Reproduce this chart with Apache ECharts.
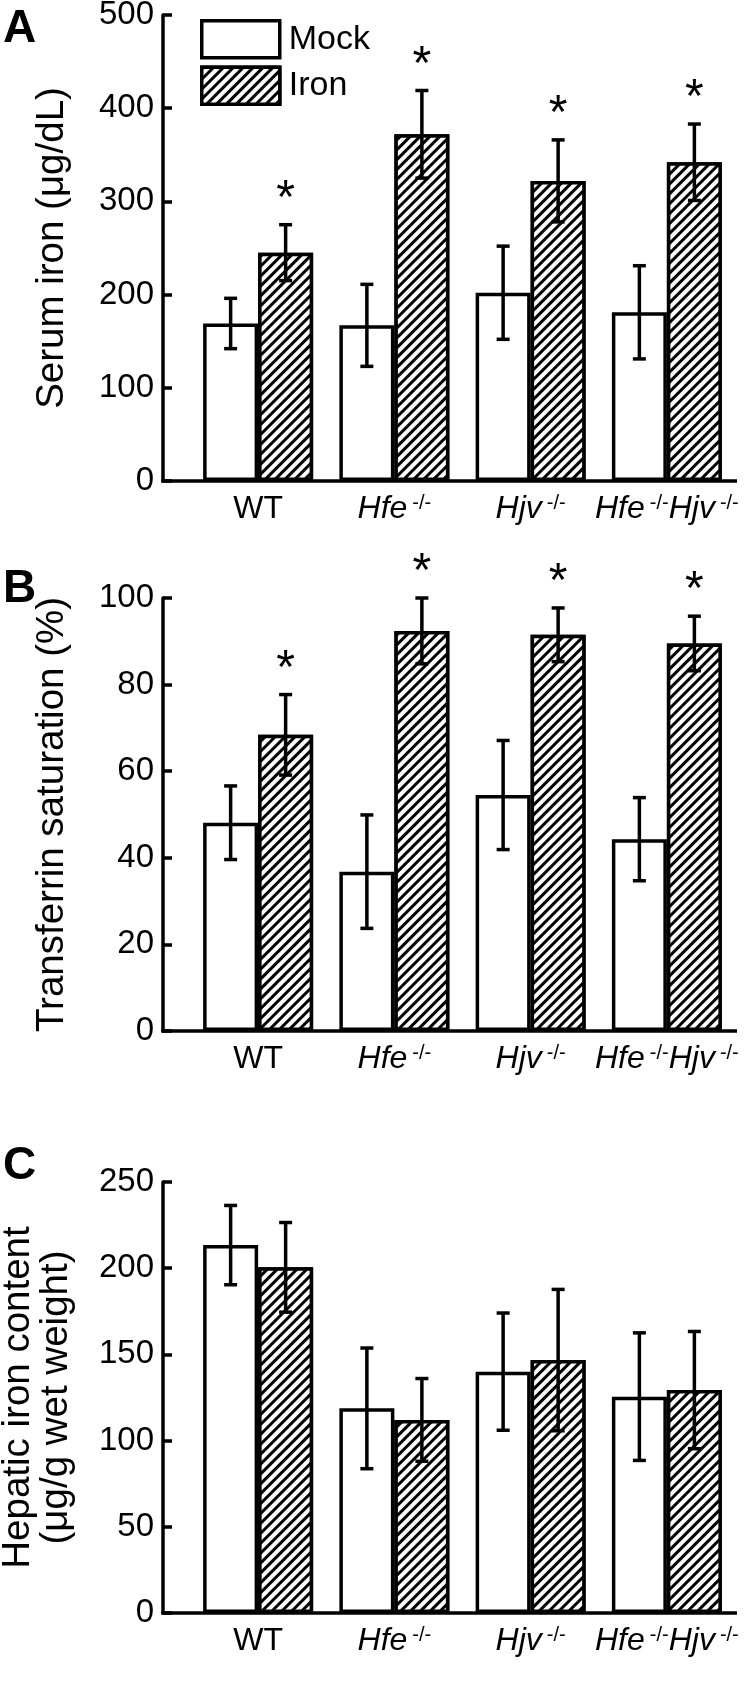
<!DOCTYPE html>
<html>
<head>
<meta charset="utf-8">
<script src="https://cdn.jsdelivr.net/npm/echarts@6/dist/echarts.min.js"></script>
<style>
  html, body { margin: 0; padding: 0; background: #fff; }
  #chart { width: 750px; height: 1693px; }
</style>
</head>
<body>
<div id="chart"></div>
<script>
const categories = ['WT', 'Hfe-/-', 'Hjv-/-', 'Hfe-/-Hjv-/-'];

// A - serum iron (ug/dL)
const serumMock = [169, 167, 202, 181];
const serumMockErr = [27, 44, 50, 50];
const serumIron = [245, 372, 322, 342];
const serumIronErr = [30, 47, 44, 41];
const serumSig = [1, 1, 1, 1];
const serumTicks = [0, 100, 200, 300, 400, 500];

// B - transferrin saturation (%)
const satMock = [48.1, 36.8, 54.5, 44.3];
const satMockErr = [8.5, 13.1, 12.6, 9.6];
const satIron = [68.4, 92.4, 91.5, 89.5];
const satIronErr = [9.3, 7.6, 6.2, 6.3];
const satSig = [1, 1, 1, 1];
const satTicks = [0, 20, 40, 60, 80, 100];

// C - hepatic iron content (ug/g wet weight)
const liverMock = [213.4, 118.7, 140, 125.5];
const liverMockErr = [23, 35, 34, 37];
const liverIron = [200.5, 112, 146.7, 129.3];
const liverIronErr = [26, 24, 41, 34];
const liverSig = [0, 0, 0, 0];
const liverTicks = [0, 50, 100, 150, 200, 250];

const FONT = '"Liberation Sans", Arial, sans-serif';
const BAR_W = 55;
const LW = 3.5;
const AXIS_X = 163;
const GRID_LEFT = 190;
const GRID_RIGHT = 15;
const AXIS_END = 737;

const panels = [
  { letter: 'A', letterTop: 6, top: 15, height: 466, nameGap: 92, name: 'Serum iron (μg/dL)', ticks: serumTicks,
    mock: serumMock, mockErr: serumMockErr, iron: serumIron, ironErr: serumIronErr, sig: serumSig },
  { letter: 'B', letterTop: 566, top: 598, height: 433, nameGap: 92, name: 'Transferrin saturation (%)', ticks: satTicks,
    mock: satMock, mockErr: satMockErr, iron: satIron, ironErr: satIronErr, sig: satSig },
  { letter: 'C', letterTop: 1143, top: 1182, height: 431, nameGap: 88, name: 'Hepatic iron content\n(μg/g wet weight)', ticks: liverTicks,
    mock: liverMock, mockErr: liverMockErr, iron: liverIron, ironErr: liverIronErr, sig: liverSig }
];

const hatch = {
  symbol: 'rect',
  symbolSize: 1,
  dashArrayX: [1, 0],
  dashArrayY: [2.5, 3.5],
  rotation: -Math.PI / 4,
  color: '#000',
  backgroundColor: '#fff'
};

function catLabel(value) {
  if (value === 'WT') return 'WT';
  return value.split('-/-').filter(s => s).map(s => '{i|' + s + '}{s|-/-}').join('');
}

function errorSeries(idx, values, errs, sig, side) {
  return {
    type: 'custom',
    xAxisIndex: idx,
    yAxisIndex: idx,
    z: 5,
    silent: true,
    data: values.map((v, i) => [i, v, errs[i], sig[i]]),
    renderItem: (params, api) => {
      const cat = api.value(0);
      const v = api.value(1);
      const e = api.value(2);
      const c = api.coord([cat, v]);
      const hi = api.coord([cat, v + e]);
      const lo = api.coord([cat, v - e]);
      const x = c[0] + side * BAR_W / 2;
      const st = { stroke: '#000', lineWidth: LW };
      const children = [
        { type: 'line', shape: { x1: x, y1: hi[1], x2: x, y2: lo[1] }, style: st },
        { type: 'line', shape: { x1: x - 6.5, y1: hi[1], x2: x + 6.5, y2: hi[1] }, style: st },
        { type: 'line', shape: { x1: x - 6.5, y1: lo[1], x2: x + 6.5, y2: lo[1] }, style: st }
      ];
      if (api.value(3)) {
        children.push({
          type: 'text',
          style: { text: '*', x: x, y: hi[1] - 25, fill: '#000', font: '48px ' + FONT, align: 'center', verticalAlign: 'middle' }
        });
      }
      return { type: 'group', children: children };
    }
  };
}

const grids = [];
const xAxes = [];
const yAxes = [];
const series = [];
const letters = [];

panels.forEach((p, i) => {
  grids.push({ left: GRID_LEFT, right: GRID_RIGHT, top: p.top, height: p.height, outerBoundsMode: 'none' });
  xAxes.push({
    type: 'category',
    gridIndex: i,
    data: categories,
    axisLine: { show: false },
    axisTick: { show: false },
    axisLabel: {
      interval: 0,
      margin: 12,
      color: '#000',
      formatter: catLabel,
      fontFamily: FONT,
      fontSize: 32,
      rich: {
        i: { fontFamily: FONT, fontSize: 32, fontStyle: 'italic', color: '#000' },
        s: { fontFamily: FONT, fontSize: 20, color: '#000', verticalAlign: 'top', padding: [0, 0, 0, 5] }
      }
    }
  });
  const t = p.ticks;
  yAxes.push({
    type: 'value',
    gridIndex: i,
    min: t[0],
    max: t[t.length - 1],
    interval: t[1] - t[0],
    offset: GRID_LEFT - AXIS_X,
    splitLine: { show: false },
    axisLine: { show: true, lineStyle: { color: '#000', width: LW } },
    axisTick: { show: true, inside: true, length: 9, lineStyle: { color: '#000', width: LW } },
    axisLabel: { color: '#000', fontFamily: FONT, fontSize: 33, margin: 9 },
    name: p.name,
    nameLocation: 'middle',
    nameRotate: 90,
    nameGap: p.nameGap,
    nameTextStyle: { color: '#000', fontFamily: FONT, fontSize: 38.5, lineHeight: 38 }
  });
  series.push({
    name: 'Mock',
    type: 'bar',
    xAxisIndex: i,
    yAxisIndex: i,
    barWidth: BAR_W,
    barGap: '0%',
    data: p.mock,
    itemStyle: { color: '#fff', borderColor: '#000', borderWidth: LW }
  });
  series.push({
    name: 'Iron',
    type: 'bar',
    xAxisIndex: i,
    yAxisIndex: i,
    barWidth: BAR_W,
    barGap: '0%',
    data: p.iron,
    itemStyle: { color: '#fff', borderColor: '#000', borderWidth: LW, decal: hatch }
  });
  series.push(errorSeries(i, p.mock, p.mockErr, [0, 0, 0, 0], -1));
  series.push(errorSeries(i, p.iron, p.ironErr, p.sig, 1));
  letters.push({
    type: 'text',
    left: 3,
    top: p.letterTop,
    style: { text: p.letter, fill: '#000', font: 'bold 46px ' + FONT }
  });
});

const chart = echarts.init(document.getElementById('chart'));
chart.setOption({
  animation: false,
  backgroundColor: '#fff',
  grid: grids,
  xAxis: xAxes,
  yAxis: yAxes,
  legend: {
    data: ['Mock', 'Iron'],
    orient: 'vertical',
    left: 200,
    top: 19,
    padding: 0,
    icon: 'rect',
    itemWidth: 78,
    itemHeight: 37,
    itemGap: 6,
    selectedMode: false,
    itemStyle: { borderColor: '#000', borderWidth: LW },
    textStyle: { color: '#000', fontFamily: FONT, fontSize: 34, padding: [0, 0, 0, 4] }
  },
  series: series,
  graphic: letters
});

// x baselines run from the y-axis line to the right end
const baselines = panels.map((p, i) => {
  const y = chart.convertToPixel({ yAxisIndex: i }, 0);
  return {
    type: 'line',
    z: 10,
    shape: { x1: AXIS_X - LW / 2, y1: y, x2: AXIS_END, y2: y },
    style: { stroke: '#000', lineWidth: LW }
  };
});
chart.setOption({ graphic: letters.concat(baselines) });
</script>
</body>
</html>
